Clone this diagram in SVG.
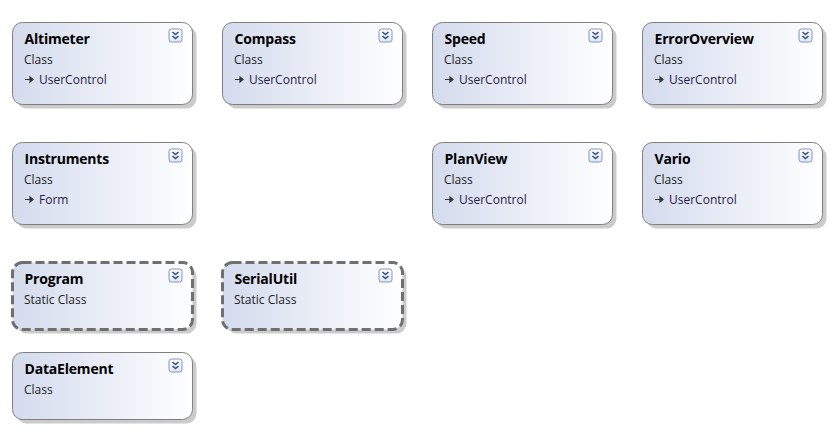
<svg xmlns="http://www.w3.org/2000/svg" width="839" height="442" viewBox="0 0 839 442">
<defs>
<linearGradient id="fill" x1="0" y1="0" x2="1" y2="0">
<stop offset="0" stop-color="#d3dbed"/>
<stop offset="1" stop-color="#ffffff"/>
</linearGradient>
<linearGradient id="btn" x1="0" y1="0" x2="0" y2="1">
<stop offset="0" stop-color="#ffffff"/>
<stop offset="1" stop-color="#dde6f5"/>
</linearGradient>
<g id="chev">
<rect x="0.5" y="0.5" width="13" height="13" rx="2.5" fill="url(#btn)" stroke="#7d98c8" stroke-width="1"/>
<path d="M4 3.5 L7 6 L10 3.5 M4 7.5 L7 10 L10 7.5" fill="none" stroke="#3a4f7a" stroke-width="1.6"/>
</g>
<path id="inh" d="M0 0 H6 M5 -2.5 L8 0 L5 2.5 Z" stroke="#333" stroke-width="1.2" fill="#333"/>
</defs>
<style>
.shadow{fill:#cbcbcb;}
.box{fill:url(#fill);stroke:#7f7f7f;stroke-width:1;}
.static{fill:url(#fill);stroke:#6f6f6f;stroke-width:3;stroke-dasharray:9 4;}
.title{font-family:"Segoe UI","Open Sans","Liberation Sans",sans-serif;font-weight:bold;font-size:14px;letter-spacing:-0.2px;fill:#000;}
.sub{font-family:"Segoe UI","Open Sans","Liberation Sans",sans-serif;font-size:12px;fill:#222;}
.base{font-family:"Segoe UI","Open Sans","Liberation Sans",sans-serif;font-size:12px;fill:#2b2048;}
</style>
<rect width="839" height="442" fill="#ffffff"/>
<g id="connectors"></g>

<g id="Altimeter" transform="translate(12.5,22.5)">
<rect class="shadow" x="4" y="4" width="180" height="82" rx="10"/>
<rect class="box" width="180" height="82" rx="10"/>
<text class="title" x="12" y="21.5">Altimeter</text>
<text class="sub" x="11.5" y="41.5">Class</text>
<use href="#inh" x="12.5" y="57"/>
<text class="base" x="26.5" y="61.5">UserControl</text>
<use href="#chev" x="156" y="6"/>
</g>
<g id="Compass" transform="translate(222.5,22.5)">
<rect class="shadow" x="4" y="4" width="180" height="82" rx="10"/>
<rect class="box" width="180" height="82" rx="10"/>
<text class="title" x="12" y="21.5">Compass</text>
<text class="sub" x="11.5" y="41.5">Class</text>
<use href="#inh" x="12.5" y="57"/>
<text class="base" x="26.5" y="61.5">UserControl</text>
<use href="#chev" x="156" y="6"/>
</g>
<g id="Speed" transform="translate(432.5,22.5)">
<rect class="shadow" x="4" y="4" width="180" height="82" rx="10"/>
<rect class="box" width="180" height="82" rx="10"/>
<text class="title" x="12" y="21.5">Speed</text>
<text class="sub" x="11.5" y="41.5">Class</text>
<use href="#inh" x="12.5" y="57"/>
<text class="base" x="26.5" y="61.5">UserControl</text>
<use href="#chev" x="156" y="6"/>
</g>
<g id="ErrorOverview" transform="translate(642.5,22.5)">
<rect class="shadow" x="4" y="4" width="180" height="82" rx="10"/>
<rect class="box" width="180" height="82" rx="10"/>
<text class="title" x="12" y="21.5">ErrorOverview</text>
<text class="sub" x="11.5" y="41.5">Class</text>
<use href="#inh" x="12.5" y="57"/>
<text class="base" x="26.5" y="61.5">UserControl</text>
<use href="#chev" x="156" y="6"/>
</g>

<g id="Instruments" transform="translate(12.5,142.5)">
<rect class="shadow" x="4" y="4" width="180" height="82" rx="10"/>
<rect class="box" width="180" height="82" rx="10"/>
<text class="title" x="12" y="21.5">Instruments</text>
<text class="sub" x="11.5" y="41.5">Class</text>
<use href="#inh" x="12.5" y="57"/>
<text class="base" x="26.5" y="61.5">Form</text>
<use href="#chev" x="156" y="6"/>
</g>
<g id="PlanView" transform="translate(432.5,142.5)">
<rect class="shadow" x="4" y="4" width="180" height="82" rx="10"/>
<rect class="box" width="180" height="82" rx="10"/>
<text class="title" x="12" y="21.5">PlanView</text>
<text class="sub" x="11.5" y="41.5">Class</text>
<use href="#inh" x="12.5" y="57"/>
<text class="base" x="26.5" y="61.5">UserControl</text>
<use href="#chev" x="156" y="6"/>
</g>
<g id="Vario" transform="translate(642.5,142.5)">
<rect class="shadow" x="4" y="4" width="180" height="82" rx="10"/>
<rect class="box" width="180" height="82" rx="10"/>
<text class="title" x="12" y="21.5">Vario</text>
<text class="sub" x="11.5" y="41.5">Class</text>
<use href="#inh" x="12.5" y="57"/>
<text class="base" x="26.5" y="61.5">UserControl</text>
<use href="#chev" x="156" y="6"/>
</g>

<g id="Program" transform="translate(12.5,262.5)">
<rect class="shadow" x="4" y="4" width="180" height="67" rx="10"/>
<rect class="static" width="180" height="67" rx="10"/>
<text class="title" x="12" y="21.5">Program</text>
<text class="sub" x="11.5" y="41.5">Static Class</text>
<use href="#chev" x="156" y="6"/>
</g>
<g id="SerialUtil" transform="translate(222.5,262.5)">
<rect class="shadow" x="4" y="4" width="180" height="67" rx="10"/>
<rect class="static" width="180" height="67" rx="10"/>
<text class="title" x="12" y="21.5">SerialUtil</text>
<text class="sub" x="11.5" y="41.5">Static Class</text>
<use href="#chev" x="156" y="6"/>
</g>

<g id="DataElement" transform="translate(12.5,352.5)">
<rect class="shadow" x="4" y="4" width="180" height="67" rx="10"/>
<rect class="box" width="180" height="67" rx="10"/>
<text class="title" x="12" y="21.5">DataElement</text>
<text class="sub" x="11.5" y="41.5">Class</text>
<use href="#chev" x="156" y="6"/>
</g>
</svg>
